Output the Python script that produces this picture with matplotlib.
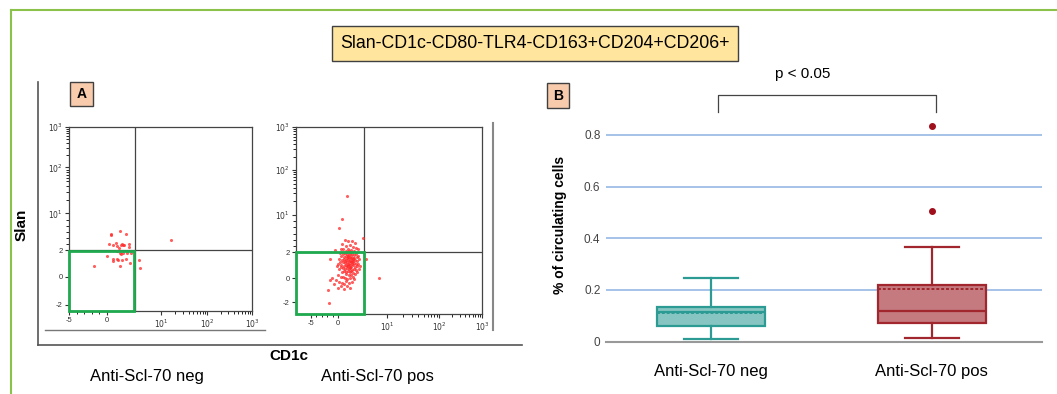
import numpy as np
import matplotlib
matplotlib.use("Agg")
import matplotlib.pyplot as plt
from matplotlib.lines import Line2D
from matplotlib.patches import Rectangle

plt.rcParams['font.family'] = ['Liberation Sans', 'DejaVu Sans']

W, H = 1057, 394

title = "Slan-CD1c-CD80-TLR4-CD163+CD204+CD206+"
groups = ["Anti-Scl-70 neg", "Anti-Scl-70 pos"]

# panel A - scatter points in channel units (0..1000 on display scale)
neg_x = [232, 229, 280, 313, 216, 242, 257, 260, 286, 294, 299, 291, 275, 326, 328,
         210, 242, 265, 269, 287, 312, 284, 279, 297, 317, 339, 335, 280, 139, 383,
         386, 238, 265, 555]
neg_y = [417, 411, 435, 418, 364, 359, 371, 355, 359, 361, 361, 364, 341, 362, 349,
         300, 283, 281, 276, 277, 283, 308, 317, 317, 314, 314, 261, 245, 245, 276,
         235, 273, 328, 387]

pos_pts = [
    (272, 632), (247, 507), (231, 459), (358, 404), (446, 191), (177, 61), (170, 129),
    (181, 182), (376, 293), (185, 295), (208, 343),
    (262, 395), (280, 388), (300, 392), (318, 380), (245, 372), (270, 365), (288, 370),
    (305, 360), (325, 355), (255, 350), (240, 345), (278, 348), (296, 342), (312, 338),
    (332, 346), (268, 338), (286, 335),
    (235, 325), (250, 320), (262, 327), (275, 322), (284, 318), (292, 326), (301, 320),
    (310, 315), (322, 322), (331, 312), (242, 308), (256, 305), (268, 310), (279, 304),
    (288, 300), (296, 308), (305, 302), (314, 298), (326, 304), (338, 296), (230, 292),
    (246, 290), (259, 296), (270, 288), (281, 292), (290, 285), (299, 290), (308, 284),
    (318, 288), (329, 282), (238, 276), (252, 280), (264, 272), (276, 278), (285, 270),
    (294, 276), (302, 268), (312, 274), (322, 266), (334, 270), (244, 262), (258, 258),
    (269, 264), (280, 256), (289, 262), (297, 254), (306, 260), (316, 252), (327, 258),
    (240, 250), (250, 244), (262, 240), (273, 246), (283, 238), (292, 244), (301, 236),
    (311, 242), (320, 234), (256, 230), (267, 226), (278, 232), (288, 224), (298, 228),
    (308, 220), (232, 238), (245, 222), (270, 214), (283, 210), (295, 206), (305, 200),
    (225, 270), (218, 255), (228, 210), (240, 200), (252, 196), (264, 190), (275, 186),
    (290, 190), (318, 212), (326, 225), (340, 240), (345, 255),
    (215, 180), (232, 172), (248, 168), (260, 160), (275, 150), (290, 140), (240, 150),
    (225, 140), (258, 135), (205, 160), (300, 170), (310, 185), (196, 195), (270, 175),
    (285, 165), (272, 300), (285, 282), (294, 298), (278, 268), (300, 280), (266, 285),
    (282, 312), (304, 295), (288, 250), (276, 258),
]
pos_x = [p[0] for p in pos_pts]
pos_y = [p[1] for p in pos_pts]

tick_lbl_x = ['-5', '0', '$10^1$', '$10^2$', '$10^3$']
tick_lbl_y = ['-2', '0', '2', '$10^1$', '$10^2$', '$10^3$']
neg_xt = [0, 208, 503, 754, 1000]
neg_yt = [33, 185, 330, 530, 780, 1000]
pos_xt = [80, 226, 490, 770, 1000]
pos_yt = [64, 190, 330, 530, 770, 1000]

# panel B - box plot statistics
whislo = [0.010, 0.015]
q1 = [0.062, 0.072]
med = [0.114, 0.119]
mean = [0.112, 0.203]
q3 = [0.135, 0.219]
whishi = [0.245, 0.365]
fliers = [[], [0.506, 0.836]]
yticks_b = [0, 0.2, 0.4, 0.6, 0.8]
ytick_lbl_b = ['0', '0.2', '0.4', '0.6', '0.8']

face_cols = ['#86c5c1', '#c47a7e']
edge_cols = ['#2b9b94', '#a2262d']


def fax(x, y, w, h):
    return [x / W, 1 - (y + h) / H, w / W, h / H]


def minor_decade(p0, p1):
    return [p0 + (p1 - p0) * np.log10(k) for k in range(2, 10)]


fig = plt.figure(figsize=(W / 100, H / 100), dpi=100)


def fig_line(x0, y0, x1, y1, color, lw):
    fig.add_artist(Line2D([x0 / W, x1 / W], [1 - y0 / H, 1 - y1 / H],
                          color=color, lw=lw, transform=fig.transFigure))


def label_box(x, y, w, h, txt, fc, size, bold):
    fig.add_artist(Rectangle((x / W, 1 - (y + h) / H), w / W, h / H, fc=fc,
                             ec='#404040', lw=1, transform=fig.transFigure))
    fig.text((x + w / 2) / W, 1 - (y + h / 2) / H, txt, ha='center', va='center',
             fontsize=size, fontweight='bold' if bold else 'normal')


# outer green frame
fig_line(10.5, 9.5, W, 9.5, '#8bc34a', 1.5)
fig_line(10.5, 9.5, 10.5, H, '#8bc34a', 1.5)

label_box(332, 26, 406, 35, title, '#ffe59e', 12.8, False)

# panel A frame lines
fig_line(38, 82, 38, 345, '#555555', 1.2)
fig_line(38, 345, 522, 345, '#555555', 1.2)
fig_line(45, 330, 265, 330, '#777777', 1.0)
fig_line(493, 123, 493, 330, '#888888', 1.5)
label_box(70, 82, 23, 24, 'A', '#f8cbad', 10, True)


def flow_panel(rect, xs, ys, xt, yt, qx, qy, gate):
    ax = fig.add_axes(rect)
    ax.scatter(xs, ys, s=5, marker='o', color='#ff2a2a', alpha=0.75, lw=0, zorder=3)
    ax.set_xlim(0, 1000)
    ax.set_ylim(0, 1000)
    ax.axvline(qx, color='#444444', lw=0.9)
    ax.axhline(qy, color='#444444', lw=0.9)
    ax.add_patch(Rectangle((0, 0), gate[0], gate[1], fill=False, ec='#1faa4f',
                           lw=2, zorder=4, clip_on=False))
    ax.set_xticks(xt)
    ax.set_xticklabels(tick_lbl_x)
    ax.set_yticks(yt)
    ax.set_yticklabels(tick_lbl_y)
    xm = [xt[0] + (xt[1] - xt[0]) * k / 5 for k in range(1, 5)]
    xm += minor_decade(xt[2], xt[3]) + minor_decade(xt[3], xt[4])
    ym = minor_decade(yt[3], yt[4]) + minor_decade(yt[4], yt[5])
    ym += [yt[2] + (yt[3] - yt[2]) * k / 6 for k in range(1, 6)]
    ax.set_xticks(xm, minor=True)
    ax.set_yticks(ym, minor=True)
    ax.tick_params(labelsize=5.5, length=3, width=0.8, pad=1.5, colors='#333333')
    ax.tick_params(which='minor', length=2, width=0.6)
    for s in ax.spines.values():
        s.set_color('#444444')
        s.set_linewidth(0.9)
    return ax


flow_panel(fax(69, 127, 183, 184), neg_x, neg_y, neg_xt, neg_yt, 363, 332, (357, 326))
flow_panel(fax(296, 127, 186, 187), pos_x, pos_y, pos_xt, pos_yt, 364, 330, (366, 332))

fig.text(22 / W, 1 - 225 / H, 'Slan', rotation=90, ha='center', va='center',
         fontsize=11, fontweight='bold')
fig.text(289 / W, 1 - 356 / H, 'CD1c', ha='center', va='center',
         fontsize=11, fontweight='bold')
fig.text(147 / W, 1 - 376 / H, groups[0], ha='center', va='center', fontsize=12)
fig.text(377 / W, 1 - 376 / H, groups[1], ha='center', va='center', fontsize=12)

# panel B
label_box(547, 83, 22, 25, 'B', '#f8cbad', 10, True)
axb = fig.add_axes(fax(606, 109, 436, 232.7))
stats = []
for i in range(2):
    stats.append(dict(whislo=whislo[i], q1=q1[i], med=med[i], q3=q3[i],
                      whishi=whishi[i], mean=mean[i], fliers=fliers[i]))
bp = axb.bxp(stats, positions=[0, 1], widths=0.49, patch_artist=True,
             showmeans=True, meanline=True, showcaps=True)
for i in range(2):
    c = edge_cols[i]
    bp['boxes'][i].set(facecolor=face_cols[i], edgecolor=c, lw=1.6)
    bp['medians'][i].set(color=c, lw=1.6)
    bp['means'][i].set(color=c, lw=1.4, ls=(0, (1.5, 1)))
    for w in bp['whiskers'][2 * i:2 * i + 2]:
        w.set(color=c, lw=1.6)
    for cp in bp['caps'][2 * i:2 * i + 2]:
        cp.set(color=c, lw=1.6)
    bp['fliers'][i].set(marker='o', markerfacecolor='#a0101c', markeredgecolor='#a0101c',
                        markersize=4)
for artist in axb.get_children():
    artist.set_clip_on(False)
axb.set_xlim(-0.476, 1.5)
axb.set_ylim(0, 0.9)
axb.set_yticks(yticks_b)
axb.set_yticklabels(ytick_lbl_b)
axb.yaxis.grid(True, color='#8db3e2', lw=1.1)
axb.set_axisbelow(True)
for s in ['top', 'right', 'left']:
    axb.spines[s].set_visible(False)
axb.spines['bottom'].set_color('#999999')
axb.spines['bottom'].set_linewidth(1.5)
axb.tick_params(axis='y', length=0, labelsize=8.5, colors='#444444', pad=4)
axb.set_xticks([0, 1])
axb.set_xticklabels(groups, fontsize=12)
axb.tick_params(axis='x', length=0, pad=16)
axb.set_ylabel('% of circulating cells', fontsize=10, fontweight='bold', labelpad=12)

# significance bracket
axb.plot([0.03, 0.03, 1.02, 1.02], [0.889, 0.954, 0.954, 0.889], color='#444444',
         lw=0.9, clip_on=False)
axb.text(0.415, 1.035, 'p < 0.05', ha='center', va='center', fontsize=11)

fig.savefig('out.png', dpi=100)
